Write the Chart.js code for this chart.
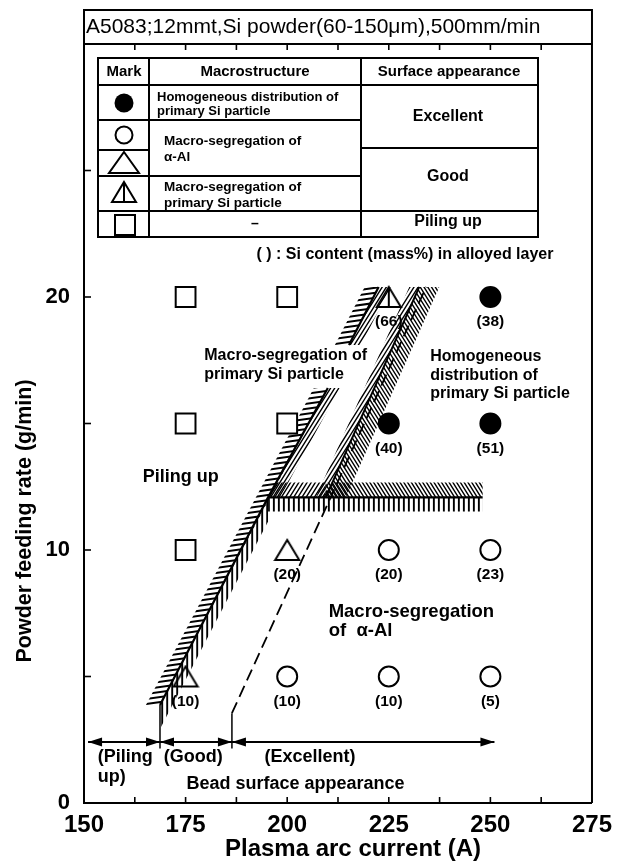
<!DOCTYPE html>
<html>
<head>
<meta charset="utf-8">
<title>Powder feeding rate vs plasma arc current</title>
<script src="https://cdn.jsdelivr.net/npm/chart.js@4.4.1/dist/chart.umd.min.js"></script>
<style>
html,body{margin:0;padding:0;background:#fff;}
#wrap{width:620px;height:867px;position:relative;}
</style>
</head>
<body>
<div id="wrap"><canvas id="chart"></canvas></div>
<script>
// ---------------- data ----------------
const chartTitle = 'A5083;12mmt,Si powder(60-150μm),500mm/min';
const xAxisTitle = 'Plasma arc current (A)';
const yAxisTitle = 'Powder feeding rate (g/min)';
const xTickLabels = [150, 175, 200, 225, 250, 275];
const yTickLabels = [0, 10, 20];
const xMinorTicks = [162.5, 175, 187.5, 200, 212.5, 225, 237.5, 250, 262.5];
const yMinorTicks = [5, 10, 15, 20, 25];

const pilingUpX = [175, 200, 175, 200, 175];
const pilingUpY = [20, 20, 15, 15, 10];
const homogeneousX = [250, 225, 250];
const homogeneousY = [20, 15, 15];
const homogeneousSi = [38, 40, 51];
const alphaAlX = [225, 250, 200, 225, 250];
const alphaAlY = [10, 10, 5, 5, 5];
const alphaAlSi = [20, 23, 10, 10, 5];
const goodAlphaX = [200, 175];
const goodAlphaY = [10, 5];
const goodAlphaSi = [20, 10];
const goodSiX = [225];
const goodSiY = [20];
const goodSiSi = [66];

// region boundaries
const pilingBoundaryX = [168.7, 168.7, 195.3, 210.0, 212.6, 215.2, 222.5];
const pilingBoundaryY = [2.15, 3.87, 12.08, 16.4, null, 18.1, 20.4];
const alphaBoundaryX = [195.3, 248.1];
const alphaBoundaryY = [12.08, 12.08];
const siBoundaryX = [209.5, 232.5];
const siBoundaryY = [12.08, 20.4];
const beadBoundaryX = [186.4, 186.4, 210.7, 234.2];
const beadBoundaryY = [2.15, 3.55, 12.08, 20.4];
const beadArrowX = [151, 168.7, 186.4, 251];
const beadArrowY = [2.41, 2.41, 2.41, 2.41];

// texts
const beadZoneLabels = ['(Piling', 'up)', '(Good)', '(Excellent)'];
const beadCaption = 'Bead surface appearance';
const regionPilingUp = ['Piling up'];
const regionSiSegregation = ['Macro-segregation of', 'primary Si particle'];
const regionHomogeneous = ['Homogeneous', 'distribution of', 'primary Si particle'];
const regionAlphaSegregation = ['Macro-segregation', 'of  α-Al'];
const legendHeader = ['Mark', 'Macrostructure', 'Surface appearance'];
const legendMacro = [['Homogeneous distribution of', 'primary Si particle'], ['Macro-segregation of', 'α-Al'], ['Macro-segregation of', 'primary Si particle'], ['–']];
const legendSurface = ['Excellent', 'Good', 'Piling up'];
const legendNote = '( ) : Si content (mass%) in alloyed layer';

// ---------------- helpers ----------------
const FONT = "'Liberation Sans', Arial, Helvetica, sans-serif";
const zip = (xs, ys) => xs.map((x, i) => ({x: x, y: ys[i]}));

function makeTriangle(withLine, w, h) {
  const c = document.createElement('canvas');
  c.width = w + 4; c.height = h + 4;
  const g = c.getContext('2d');
  g.strokeStyle = '#000'; g.lineWidth = 2;
  g.beginPath(); g.moveTo(c.width / 2, 2); g.lineTo(c.width - 2, h + 2); g.lineTo(2, h + 2); g.closePath(); g.stroke();
  if (withLine) { g.beginPath(); g.moveTo(c.width / 2, 2); g.lineTo(c.width / 2, h + 2); g.stroke(); }
  return c;
}
const triImg = makeTriangle(false, 24, 20);
const triLineImg = makeTriangle(true, 24, 20);

function hatch(ctx, poly, angleDeg, spacing, lw) {
  ctx.save();
  ctx.beginPath();
  poly.forEach((p, i) => i ? ctx.lineTo(p[0], p[1]) : ctx.moveTo(p[0], p[1]));
  ctx.closePath();
  ctx.clip();
  const xs = poly.map(p => p[0]), ys = poly.map(p => p[1]);
  const x0 = Math.min(...xs), x1 = Math.max(...xs), y0 = Math.min(...ys), y1 = Math.max(...ys);
  const cx = (x0 + x1) / 2, cy = (y0 + y1) / 2, R = Math.hypot(x1 - x0, y1 - y0) / 2 + 4;
  const a = angleDeg * Math.PI / 180, dx = Math.cos(a), dy = -Math.sin(a), nx = -dy, ny = dx;
  ctx.beginPath();
  for (let t = -R; t <= R; t += spacing) {
    const px = cx + nx * t, py = cy + ny * t;
    ctx.moveTo(px - dx * R, py - dy * R);
    ctx.lineTo(px + dx * R, py + dy * R);
  }
  ctx.lineWidth = lw; ctx.strokeStyle = '#000'; ctx.stroke();
  ctx.restore();
}

function seg(ctx, x0, y0, x1, y1) { ctx.beginPath(); ctx.moveTo(x0, y0); ctx.lineTo(x1, y1); ctx.stroke(); }

function txt(ctx, s, x, y, size, align, weight) {
  ctx.font = (weight || 'bold') + ' ' + size + 'px ' + FONT;
  ctx.textAlign = align || 'left';
  ctx.textBaseline = 'middle';
  ctx.fillStyle = '#000';
  ctx.fillText(s, x, y);
}

// ---------------- plugin: hatching, annotations, legend table ----------------
const diagramPlugin = {
  id: 'diagram',
  beforeDatasetsDraw(chart) {
    const ctx = chart.ctx, xs = chart.scales.x, ys = chart.scales.y;
    const P = (x, y) => [xs.getPixelForValue(x), ys.getPixelForValue(y)];
    const sh = (p, dx, dy) => [p[0] + dx, p[1] + dy];
    const a0 = P(pilingBoundaryX[1], pilingBoundaryY[1]);
    const ac = P(pilingBoundaryX[2], pilingBoundaryY[2]);
    const a1 = P(pilingBoundaryX[3], pilingBoundaryY[3]);
    const a2 = P(pilingBoundaryX[5], pilingBoundaryY[5]);
    const a3 = P(pilingBoundaryX[6], pilingBoundaryY[6]);
    const h1 = P(alphaBoundaryX[1], alphaBoundaryY[1]);
    const b0 = P(siBoundaryX[0], siBoundaryY[0]);
    const b1 = P(siBoundaryX[1], siBoundaryY[1]);
    // short strokes on the piling-up side of the boundary
    hatch(ctx, [a0, a1, sh(a1, -14, 0), sh(a0, -14, 0)], 8, 5, 2);
    hatch(ctx, [a2, a3, sh(a3, -14, 0), sh(a2, -14, 0)], 8, 5, 2);
    // hanging strokes below the alpha-Al boundary
    hatch(ctx, [a0, ac, sh(ac, 0, 24), sh(a0, 0, 24)], 90, 5, 1.9);
    hatch(ctx, [ac, h1, sh(h1, 0, 14), sh(ac, 0, 14)], 90, 5, 1.9);
    // diagonal hatch band right of boundary A (above corner)
    hatch(ctx, [ac, a1, sh(a1, 12, 0), sh(ac, 12, 0)], 58, 3.5, 1.4);
    hatch(ctx, [a2, a3, sh(a3, 12, 0), sh(a2, 12, 0)], 58, 3.5, 1.4);
    // strip above the horizontal boundary
    const slopeA = (a1[0] - ac[0]) / (ac[1] - a1[1]);
    const aTop = [ac[0] + 15 * slopeA, ac[1] - 15];
    hatch(ctx, [ac, b0, sh(b0, 0, -15), aTop], 58, 3.5, 1.4);
    hatch(ctx, [b0, h1, sh(h1, 0, -15), sh(b0, 0, -15)], 122, 3.2, 1.4);
    // band along boundary B
    hatch(ctx, [b0, b1, sh(b1, -10, 0), sh(b0, -10, 0)], 58, 3.5, 1.4);
    hatch(ctx, [b0, b1, sh(b1, 20, 0), sh(b0, 20, 0)], 122, 3.2, 1.4);
  },
  afterDatasetsDraw(chart) {
    const ctx = chart.ctx, xs = chart.scales.x, ys = chart.scales.y;
    const X = v => xs.getPixelForValue(v), Y = v => ys.getPixelForValue(v);
    ctx.save();
    // bead appearance arrows
    const ay = Y(beadArrowY[0]);
    const head = (xt, dir) => { ctx.beginPath(); ctx.moveTo(xt, ay); ctx.lineTo(xt - dir * 14, ay - 4.5); ctx.lineTo(xt - dir * 14, ay + 4.5); ctx.closePath(); ctx.fill(); };
    ctx.fillStyle = '#000';
    head(X(beadArrowX[0]), -1); head(X(beadArrowX[1]), 1);
    head(X(beadArrowX[1]), -1); head(X(beadArrowX[2]), 1);
    head(X(beadArrowX[2]), -1); head(X(beadArrowX[3]), 1);
    // bead labels
    txt(ctx, beadZoneLabels[0], X(153.4), Y(1.82), 18, 'left');
    txt(ctx, beadZoneLabels[1], X(153.4), Y(1.03), 18, 'left');
    txt(ctx, beadZoneLabels[2], X(176.9), Y(1.82), 18, 'center');
    txt(ctx, beadZoneLabels[3], X(205.6), Y(1.82), 18, 'center');
    txt(ctx, beadCaption, X(175.2), Y(0.75), 18, 'left');
    // region labels
    txt(ctx, regionPilingUp[0], X(173.8), Y(12.89), 18, 'center');
    regionSiSegregation.forEach((s, i) => txt(ctx, s, X(179.6), Y(17.67) + i * 19, 16, 'left'));
    regionHomogeneous.forEach((s, i) => txt(ctx, s, X(235.2), Y(17.63) + i * 18.5, 16, 'left'));
    regionAlphaSegregation.forEach((s, i) => txt(ctx, s, X(210.2), Y(7.55) + i * 19, 18.5, 'left'));
    // Si content labels under points
    chart.data.datasets.forEach((ds, di) => {
      if (!ds.siValues) return;
      const meta = chart.getDatasetMeta(di);
      meta.data.forEach((el, j) => txt(ctx, '(' + ds.siValues[j] + ')', el.x, el.y + 25, 15.5, 'center'));
    });
    ctx.restore();
  },
  afterDraw(chart) {
    const ctx = chart.ctx, xs = chart.scales.x, ys = chart.scales.y, ca = chart.chartArea;
    ctx.save();
    ctx.strokeStyle = '#000'; ctx.fillStyle = '#000';
    // frame top / right and title box
    ctx.lineWidth = 2;
    seg(ctx, ca.left, ca.top, ca.right, ca.top);
    seg(ctx, ca.right, ca.top, ca.right, ca.bottom);
    ctx.strokeRect(ca.left, 10, ca.right - ca.left, ca.top - 10);
    txt(ctx, chartTitle, ca.left + 2, 27, 21, 'left', 'normal');
    // inward tick marks
    ctx.lineWidth = 1.6;
    xMinorTicks.forEach(v => {
      const x = xs.getPixelForValue(v);
      seg(ctx, x, ca.top, x, ca.top + 6);
      seg(ctx, x, ca.bottom, x, ca.bottom - 6);
    });
    yMinorTicks.forEach(v => {
      const y = ys.getPixelForValue(v);
      seg(ctx, ca.left, y, ca.left + 7, y);
    });
    // axis titles
    txt(ctx, xAxisTitle, 353, 849, 24, 'center');
    ctx.save();
    ctx.translate(25, 521); ctx.rotate(-Math.PI / 2);
    txt(ctx, yAxisTitle, 0, 0, 21.5, 'center');
    ctx.restore();
    // legend table
    const L = 98, T = 58, R = 538, B = 237, c1 = 149, c2 = 361;
    ctx.fillStyle = '#fff'; ctx.fillRect(L, T, R - L, B - T);
    ctx.lineWidth = 2; ctx.strokeStyle = '#000';
    ctx.strokeRect(L, T, R - L, B - T);
    seg(ctx, c1, T, c1, B); seg(ctx, c2, T, c2, B);
    seg(ctx, L, 85, R, 85);
    [120, 150, 176, 211].forEach(y => seg(ctx, L, y, c1, y));
    [120, 176, 211].forEach(y => seg(ctx, c1, y, c2, y));
    [148, 211].forEach(y => seg(ctx, c2, y, R, y));
    txt(ctx, legendHeader[0], 124, 72, 15, 'center');
    txt(ctx, legendHeader[1], 255, 72, 15, 'center');
    txt(ctx, legendHeader[2], 449, 72, 15, 'center');
    txt(ctx, legendMacro[0][0], 157, 97, 13, 'left');
    txt(ctx, legendMacro[0][1], 157, 111, 13, 'left');
    txt(ctx, legendMacro[1][0], 164, 141, 13.5, 'left');
    txt(ctx, legendMacro[1][1], 164, 157, 13.5, 'left');
    txt(ctx, legendMacro[2][0], 164, 187, 13.5, 'left');
    txt(ctx, legendMacro[2][1], 164, 203, 13.5, 'left');
    txt(ctx, legendMacro[3][0], 255, 224, 14, 'center');
    txt(ctx, legendSurface[0], 448, 117, 16, 'center');
    txt(ctx, legendSurface[1], 448, 177, 16, 'center');
    txt(ctx, legendSurface[2], 448, 222, 16, 'center');
    txt(ctx, legendNote, 405, 255, 16, 'center');
    // legend marks
    ctx.fillStyle = '#000';
    ctx.beginPath(); ctx.arc(124, 103, 9.5, 0, Math.PI * 2); ctx.fill();
    ctx.lineWidth = 2;
    ctx.beginPath(); ctx.arc(124, 135, 8.5, 0, Math.PI * 2); ctx.stroke();
    ctx.beginPath(); ctx.moveTo(124, 152); ctx.lineTo(139, 173); ctx.lineTo(109, 173); ctx.closePath(); ctx.stroke();
    ctx.beginPath(); ctx.moveTo(124, 182); ctx.lineTo(136, 202); ctx.lineTo(112, 202); ctx.closePath(); ctx.stroke();
    seg(ctx, 124, 182, 124, 202);
    ctx.strokeRect(115, 215, 20, 20);
    ctx.restore();
  }
};

// ---------------- chart ----------------
const blackLine = {showLine: true, pointRadius: 0, borderColor: '#000', fill: false, tension: 0, spanGaps: false};

new Chart(document.getElementById('chart'), {
  type: 'scatter',
  data: {
    datasets: [
      {label: 'Homogeneous distribution of primary Si particle', data: zip(homogeneousX, homogeneousY), siValues: homogeneousSi,
       pointStyle: 'circle', pointRadius: 10, backgroundColor: '#000', borderColor: '#000', borderWidth: 2},
      {label: 'Macro-segregation of α-Al', data: zip(alphaAlX, alphaAlY), siValues: alphaAlSi,
       pointStyle: 'circle', pointRadius: 10, backgroundColor: '#fff', borderColor: '#000', borderWidth: 2},
      {label: 'Macro-segregation of α-Al (Good)', data: zip(goodAlphaX, goodAlphaY), siValues: goodAlphaSi,
       pointStyle: triImg, pointRadius: 12},
      {label: 'Macro-segregation of primary Si particle', data: zip(goodSiX, goodSiY), siValues: goodSiSi,
       pointStyle: triLineImg, pointRadius: 12},
      {label: 'Piling up', data: zip(pilingUpX, pilingUpY),
       pointStyle: 'rect', pointRadius: 14, backgroundColor: '#fff', borderColor: '#000', borderWidth: 2},
      Object.assign({label: 'piling boundary', data: zip(pilingBoundaryX, pilingBoundaryY), borderWidth: 2.2,
       segment: {borderWidth: c => c.p0DataIndex === 0 ? 1.5 : 2.2}}, blackLine),
      Object.assign({label: 'alpha-Al boundary', data: zip(alphaBoundaryX, alphaBoundaryY), borderWidth: 2.2}, blackLine),
      Object.assign({label: 'Si boundary', data: zip(siBoundaryX, siBoundaryY), borderWidth: 2}, blackLine),
      Object.assign({label: 'bead boundary', data: zip(beadBoundaryX, beadBoundaryY), borderWidth: 1.8,
       segment: {borderDash: c => c.p0DataIndex >= 1 ? [12, 6] : [], borderWidth: c => c.p0DataIndex === 0 ? 1.5 : 1.8}}, blackLine),
      Object.assign({label: 'bead arrows', data: zip(beadArrowX, beadArrowY), borderWidth: 2}, blackLine)
    ]
  },
  options: {
    responsive: true,
    maintainAspectRatio: false,
    animation: false,
    events: [],
    layout: {padding: {top: 44, right: 21, left: 0, bottom: 0}},
    plugins: {legend: {display: false}, tooltip: {enabled: false}},
    scales: {
      x: {
        type: 'linear', min: 150, max: 275,
        afterBuildTicks: s => { s.ticks = xTickLabels.map(v => ({value: v})); },
        ticks: {font: {family: FONT, size: 24, weight: 'bold'}, color: '#000', padding: 8, maxRotation: 0, autoSkip: false},
        grid: {display: false, drawTicks: false},
        border: {display: true, color: '#000', width: 2},
        title: {display: false},
        afterFit: s => { s.height = 64; }
      },
      y: {
        type: 'linear', min: 0, max: 30,
        afterBuildTicks: s => { s.ticks = yTickLabels.map(v => ({value: v})); },
        ticks: {font: {family: FONT, size: 22, weight: 'bold'}, color: '#000', padding: 14, autoSkip: false},
        grid: {display: false, drawTicks: false},
        border: {display: true, color: '#000', width: 2},
        title: {display: false},
        afterFit: s => { s.width = 84; }
      }
    }
  },
  plugins: [diagramPlugin]
});
</script>
</body>
</html>
